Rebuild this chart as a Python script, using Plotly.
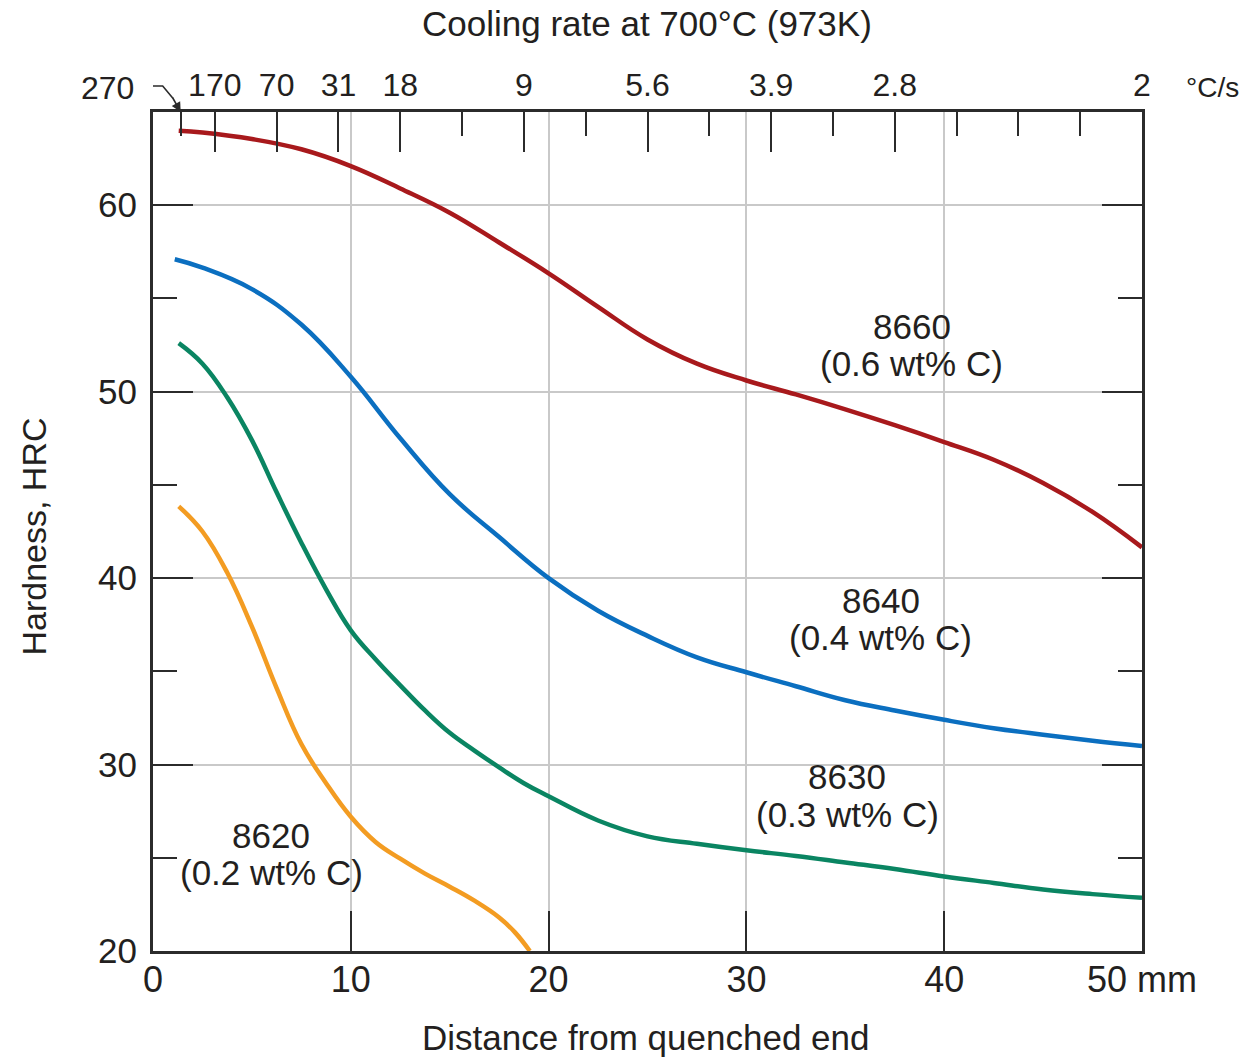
import plotly.graph_objects as go

# ---- data ----
x_8660 = [1.3, 2.5, 5.0, 7.5, 10.0, 12.5, 15.0, 17.5, 20.0, 22.5, 25.0, 27.5, 30.0, 32.5, 35.0, 37.5, 40.0, 42.5, 45.0, 47.5, 50.0]
y_8660 = [64.0, 63.9, 63.55, 63.0, 62.1, 60.9, 59.6, 58.0, 56.35, 54.55, 52.8, 51.5, 50.6, 49.85, 49.05, 48.2, 47.3, 46.35, 45.1, 43.55, 41.65]

x_8640 = [1.1, 2.5, 5.0, 7.5, 10.0, 12.5, 15.0, 17.5, 20.0, 22.5, 25.0, 27.5, 30.0, 32.5, 35.0, 37.5, 40.0, 42.5, 45.0, 47.5, 50.0]
y_8640 = [57.1, 56.65, 55.5, 53.6, 50.8, 47.5, 44.5, 42.2, 40.0, 38.25, 36.9, 35.75, 34.95, 34.2, 33.45, 32.9, 32.4, 31.95, 31.6, 31.28, 31.0]

x_8630 = [1.3, 2.5, 3.75, 5.0, 6.25, 7.5, 8.75, 10.0, 11.25, 12.5, 13.75, 15.0, 16.25, 17.5, 18.75, 20.0, 22.5, 25.0, 27.5, 30.0, 32.5, 35.0, 37.5, 40.0, 42.5, 45.0, 47.5, 50.0]
y_8630 = [52.6, 51.5, 49.7, 47.4, 44.6, 41.9, 39.4, 37.2, 35.65, 34.25, 32.9, 31.7, 30.75, 29.85, 29.0, 28.3, 27.0, 26.15, 25.75, 25.4, 25.1, 24.75, 24.4, 24.0, 23.65, 23.3, 23.05, 22.85]

x_8620 = [1.3, 2.5, 3.75, 5.0, 6.25, 7.5, 8.75, 10.0, 11.25, 12.5, 13.75, 15.0, 16.25, 17.5, 18.3, 19.05]
y_8620 = [43.85, 42.5, 40.3, 37.4, 34.1, 31.1, 29.0, 27.2, 25.85, 24.95, 24.15, 23.45, 22.7, 21.8, 21.0, 20.0]

steel_names = ["8660", "8640", "8630", "8620"]
steel_carbon = ["(0.6 wt% C)", "(0.4 wt% C)", "(0.3 wt% C)", "(0.2 wt% C)"]
steel_colors = ["#a8191c", "#0b6fc0", "#0a8562", "#f39c22"]

# bottom axis (distance, mm)
dist_ticks = [0, 10, 20, 30, 40, 50]
dist_labels = ["0", "10", "20", "30", "40", "50 mm"]

# top axis (cooling rate at 700 C) -- positions along bar in mm
rate_pos = [3.125, 6.25, 9.375, 12.5, 18.75, 25.0, 31.25, 37.5, 50.0]
rate_labels = ["170", "70", "31", "18", "9", "5.6", "3.9", "2.8", "2"]
rate_minor_pos = [1.4, 15.625, 21.875, 28.125, 34.375, 40.625, 43.75, 46.875]
first_rate_label = "270"

hrc_ticks = [20, 30, 40, 50, 60]

FONT = "Liberation Sans, Arial, sans-serif"
TXT = "#231f20"
AX = "#2b2b2b"
GRID = "#c9c9c9"

fig = go.Figure()
series = [(x_8660, y_8660), (x_8640, y_8640), (x_8630, y_8630), (x_8620, y_8620)]
for (xs, ys), name, col in zip(series, steel_names, steel_colors):
    fig.add_trace(go.Scatter(x=xs, y=ys, mode="lines", name=name,
                             line=dict(color=col, width=4.5, shape="spline", smoothing=1.2),
                             showlegend=False, hoverinfo="skip"))

# empty traces to activate the extra axes
fig.add_trace(go.Scatter(x=[], y=[], xaxis="x2", yaxis="y", showlegend=False))
fig.add_trace(go.Scatter(x=[], y=[], xaxis="x", yaxis="y2", showlegend=False))

fig.update_layout(
    width=1241, height=1057,
    margin=dict(l=153, r=99, t=112, b=106, autoexpand=False),
    paper_bgcolor="white", plot_bgcolor="white",
    font=dict(family=FONT, color=TXT),
    xaxis=dict(range=[0, 50], tickmode="array", tickvals=dist_ticks, ticktext=dist_labels,
               ticks="inside", ticklen=40, tickwidth=2, tickcolor=AX, automargin=False,
               showline=True, linecolor=AX, linewidth=3, mirror=True,
               showgrid=True, gridcolor=GRID, gridwidth=1.5, zeroline=False,
               tickfont=dict(size=36, color=TXT), ticklabelstandoff=-5),
    xaxis2=dict(range=[0, 50], overlaying="x", side="top", anchor="y", automargin=False,
                tickmode="array", tickvals=rate_pos, ticktext=rate_labels,
                ticks="inside", ticklen=40, tickwidth=2, tickcolor=AX,
                minor=dict(tickmode="array", tickvals=rate_minor_pos, ticks="inside",
                           ticklen=24, tickwidth=2, tickcolor=AX, showgrid=False),
                showline=True, linecolor=AX, linewidth=3, showgrid=False, zeroline=False,
                tickfont=dict(size=32, color=TXT), ticklabelstandoff=0),
    yaxis=dict(range=[20, 65], tickmode="array", tickvals=hrc_ticks, automargin=False,
               ticks="inside", ticklen=40, tickwidth=2, tickcolor=AX,
               minor=dict(dtick=5, tick0=0, ticks="inside", ticklen=24, tickwidth=2,
                          tickcolor=AX, showgrid=False),
               showline=True, linecolor=AX, linewidth=3, mirror=True,
               showgrid=True, gridcolor=GRID, gridwidth=1.5, zeroline=False,
               tickfont=dict(size=35, color=TXT), ticklabelstandoff=6),
    yaxis2=dict(range=[20, 65], overlaying="y", side="right", anchor="x", automargin=False,
                tickmode="array", tickvals=hrc_ticks, showticklabels=False,
                ticks="inside", ticklen=40, tickwidth=2, tickcolor=AX,
                minor=dict(dtick=5, tick0=0, ticks="inside", ticklen=24, tickwidth=2,
                           tickcolor=AX, showgrid=False),
                showline=False, showgrid=False, zeroline=False),
)

ann = []
# axis titles
ann.append(dict(text="Distance from quenched end", xref="paper", yref="paper", x=0.498, y=0,
                xanchor="center", yanchor="middle", yshift=-86, showarrow=False,
                font=dict(size=35, color=TXT)))
ann.append(dict(text="Hardness, HRC", xref="paper", yref="paper", x=0, y=0.494,
                xanchor="center", yanchor="middle", xshift=-119, textangle=-90,
                showarrow=False, font=dict(size=34, color=TXT)))
ann.append(dict(text="Cooling rate at 700\u00b0C (973K)", xref="paper", yref="paper", x=0.4995, y=1,
                xanchor="center", yanchor="middle", yshift=89, showarrow=False,
                font=dict(size=35, color=TXT)))
ann.append(dict(text="\u00b0C/s", xref="paper", yref="paper", x=1, y=1, xshift=70, yshift=25,
                xanchor="center", yanchor="middle", showarrow=False, font=dict(size=28, color=TXT)))
ann.append(dict(text=first_rate_label, xref="paper", yref="paper", x=0, y=1, xshift=-46, yshift=24,
                xanchor="center", yanchor="middle", showarrow=False, font=dict(size=32, color=TXT)))
# arrowhead of the 270 pointer
ann.append(dict(text="", xref="x", yref="paper", x=rate_minor_pos[0], y=1, ax=-9, ay=-16,
                showarrow=True, arrowhead=2, arrowsize=1.2, arrowwidth=1.6, arrowcolor=AX))

# curve labels
label_x = [38.35, 36.8, 35.1, 5.97]
label_y1 = [53.5, 38.8, 29.35, 26.2]
label_y2 = [51.5, 36.8, 27.3, 24.2]
for nm, cc, lx, y1, y2 in zip(steel_names, steel_carbon, label_x, label_y1, label_y2):
    ann.append(dict(text=nm, x=lx, y=y1, xref="x", yref="y", showarrow=False,
                    xanchor="center", yanchor="middle", font=dict(size=35, color=TXT)))
    ann.append(dict(text=cc, x=lx, y=y2, xref="x", yref="y", showarrow=False,
                    xanchor="center", yanchor="middle", font=dict(size=35, color=TXT)))
fig.update_layout(annotations=ann)

# hook line of the 270 pointer
fig.add_shape(type="path", xref="x", yref="paper", xsizemode="pixel", ysizemode="pixel",
              xanchor=rate_minor_pos[0], yanchor=1,
              path="M -34,26 L -18,26 L -8,14", line=dict(color=AX, width=1.6))

fig.write_html("out.html", config={"displayModeBar": False},
               post_script="document.body.style.margin='0';document.body.style.overflow='hidden';")
